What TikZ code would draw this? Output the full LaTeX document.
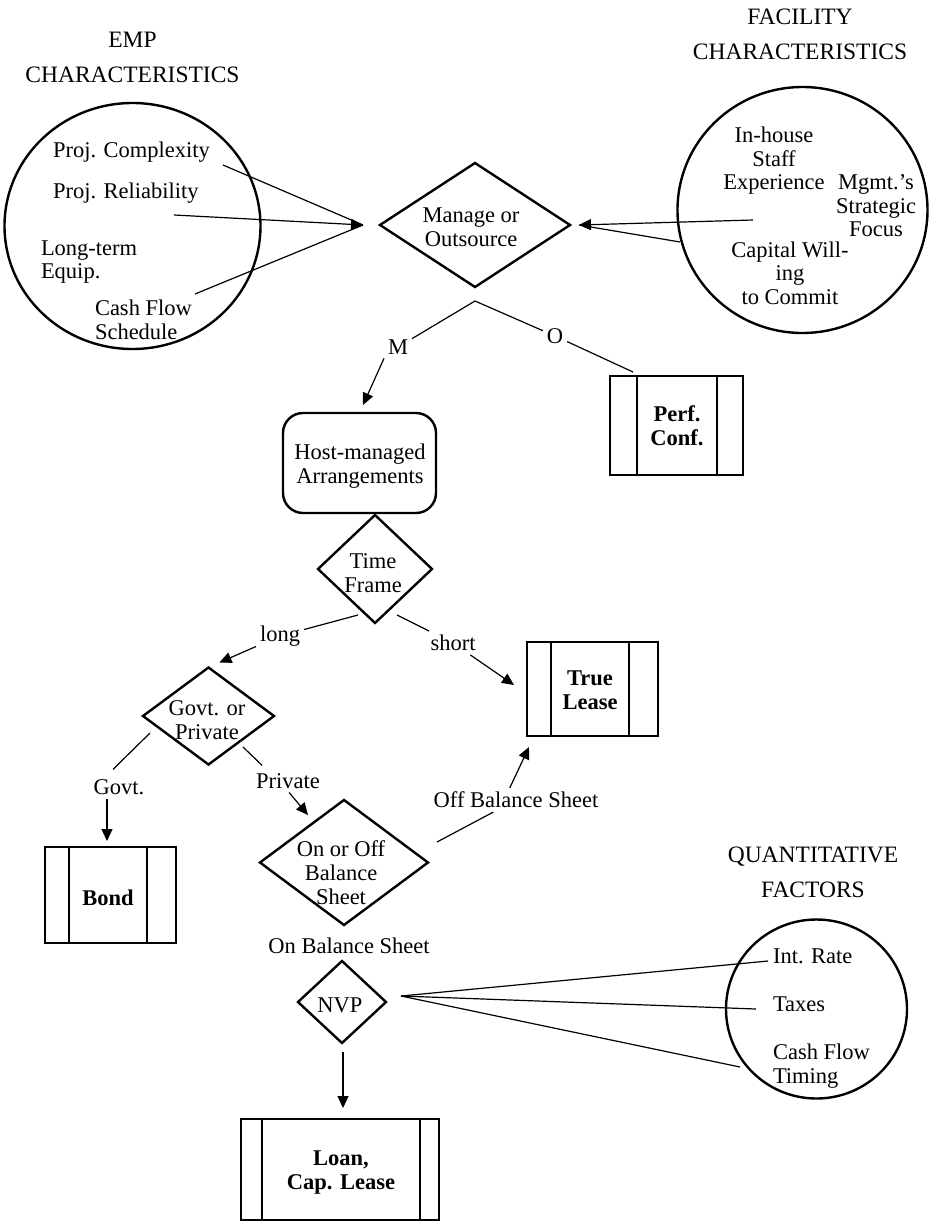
\documentclass[tikz,border=0pt]{standalone}
\usepackage{fontspec}
\setmainfont{Liberation Serif}
\usetikzlibrary{shapes.geometric,arrows.meta,calc}
\begin{document}
\begin{tikzpicture}[x=1pt,y=-1pt,
  every node/.style={inner sep=0pt, outer sep=0pt, font=\fontsize{22.5}{23.5}\selectfont},
  heading/.style={align=center, font=\fontsize{23.5}{35}\selectfont},
  factor/.style={align=center},
  group/.style={draw, ellipse, line width=2.4pt},
  decide/.style={draw, diamond, line width=2.4pt},
  result/.style={draw, rectangle, line width=2.4pt},
  hostbox/.style={draw, rectangle, rounded corners=20pt, line width=2.4pt},
  caption/.style={align=center, font=\fontsize{22.5}{24}\selectfont},
  boldcap/.style={align=center, font=\fontsize{22.5}{24}\selectfont\bfseries},
  branch/.style={inner sep=4pt},
  link/.style={line width=1.2pt},
  head/.style={-{Triangle[length=12pt,width=11pt]}},
  panel/.style={line width=2.4pt},
]
\useasboundingbox (0,0) rectangle (931,1223);

% ---------- factor groups ----------
\node[group, minimum width=256pt, minimum height=246pt] (emp) at (132.5,226) {};
\node[group, minimum width=250pt, minimum height=246pt] (facility) at (802.5,210) {};
\node[group, minimum width=181pt, minimum height=179pt] (quant) at (816.5,1009) {};

\node[heading] (empH) at (132.5,57) {EMP\\CHARACTERISTICS};
\node[heading] (facH) at (800,34) {FACILITY\\CHARACTERISTICS};
\node[heading] (quantH) at (813,872) {QUANTITATIVE\\FACTORS};

% EMP items
\node[anchor=west] (cmplx) at (53,152) {Proj. Complexity};
\node[anchor=west] (relia) at (53,193) {Proj. Reliability};
\node[anchor=west, align=left] (equip) at (41,262) {Long-term\\Equip.};
\node[anchor=west, align=left] (cashS) at (95,320) {Cash Flow\\Schedule};

% facility items
\node[factor] (staff) at (774,161) {In-house\\Staff\\Experience};
\node[factor] (focus) at (876,206) {Mgmt.'s\\Strategic\\Focus};
\node[factor] (capital) at (790,273) {Capital Will-\\ing\\to Commit};

% quantitative items
\node[anchor=west] (rate) at (773,956) {Int. Rate};
\node[anchor=west] (taxes) at (773,1004) {Taxes};
\node[anchor=west, align=left] (timing) at (773,1066) {Cash Flow\\Timing};

% ---------- decisions and outcomes ----------
\node[decide, minimum width=190pt, minimum height=124pt] (manage) at (475,225) {};
\node[caption] (manageT) at (471,227) {Manage or\\Outsource};

\node[result, minimum width=133pt, minimum height=99pt] (perf) at (676.5,425.5) {};
\draw[panel] ($(perf.north west)+(27,0)$) -- ($(perf.south west)+(27,0)$);
\draw[panel] ($(perf.north east)+(-26,0)$) -- ($(perf.south east)+(-26,0)$);
\node[boldcap] (perfT) at (677,426) {Perf.\\Conf.};

\node[hostbox, minimum width=153pt, minimum height=100pt] (host) at (359.5,463) {};
\node[caption] (hostT) at (360,466) {Host-managed\\Arrangements};

\node[decide, minimum width=114pt, minimum height=108pt] (time) at (375,569) {};
\node[caption] (timeT) at (373,573) {Time\\Frame};

\node[decide, minimum width=131pt, minimum height=97pt] (govt) at (208.5,716) {};
\node[caption] (govtT) at (207,720) {Govt. or\\Private};

\node[result, minimum width=131pt, minimum height=94pt] (lease) at (592.5,689) {};
\draw[panel] ($(lease.north west)+(24,0)$) -- ($(lease.south west)+(24,0)$);
\draw[panel] ($(lease.north east)+(-29,0)$) -- ($(lease.south east)+(-29,0)$);
\node[boldcap] (leaseT) at (590,690) {True\\Lease};

\node[result, minimum width=131pt, minimum height=96pt] (bond) at (110.5,895) {};
\draw[panel] ($(bond.north west)+(24,0)$) -- ($(bond.south west)+(24,0)$);
\draw[panel] ($(bond.north east)+(-29,0)$) -- ($(bond.south east)+(-29,0)$);
\node[boldcap] (bondT) at (108,898) {Bond};

\node[decide, minimum width=168pt, minimum height=125pt] (onoff) at (344,862.5) {};
\node[caption] (onoffT) at (341,873) {On or Off\\Balance\\Sheet};

\node (onLbl) at (349,946) {On Balance Sheet};

\node[decide, minimum width=88pt, minimum height=82pt] (nvp) at (342,1002) {};
\node (nvpT) at (340,1005) {NVP};

\node[result, minimum width=198pt, minimum height=101pt] (loan) at (340,1169.5) {};
\draw[panel] ($(loan.north west)+(21,0)$) -- ($(loan.south west)+(21,0)$);
\draw[panel] ($(loan.north east)+(-19,0)$) -- ($(loan.south east)+(-19,0)$);
\node[boldcap] (loanT) at (341,1173) {Loan,\\Cap. Lease};

% ---------- inputs to the first decision ----------
\coordinate (cmplxOut) at (223,165);
\coordinate (reliaOut) at (174,215);
\coordinate (cashOut) at (195,294);
\coordinate (empIn) at ($(manage.west)+(-17,0)$);
\draw[link] (cmplxOut) -- (empIn);
\draw[link,head] (reliaOut) -- (empIn);
\draw[link] (cashOut) -- (empIn);

\coordinate (staffOut) at (753,220);
\coordinate (capOut) at (680,242);
\coordinate (facIn) at ($(manage.east)+(9,0)$);
\draw[link,head] (staffOut) -- (facIn);
\draw[link] (capOut) -- (facIn);

% ---------- branches ----------
\coordinate (split) at (475,301);
\node[branch] (lblM) at (398,347) {M};
\node[branch] (lblO) at (555,336) {O};
\draw[link] (split) -- (lblM);
\draw[link,head] (lblM.south west) -- ($(host.north)+(3.5,-8)$);
\draw[link] (split) -- (lblO);
\draw[link] (lblO) -- ($(perf.north west)+(23,-4)$);

\coordinate (timeL) at (358,615);
\node[branch] (lblLong) at (280,636) {long};
\draw[link] (timeL) -- (lblLong);
\draw[link,head] (lblLong) -- ($(govt.north)+(11,-5)$);

\coordinate (timeR) at (397,615);
\node[branch] (lblShort) at (453,643) {short};
\draw[link] (timeR) -- (lblShort);
\draw[link,head] (lblShort) -- ($(lease.west)+(-13,-4)$);

\coordinate (govtL) at (150,733);
\node[branch] (lblGovt) at (119,787) {Govt.};
\draw[link] (govtL) -- ($(lblGovt.north)+(-6,-6)$);
\draw[link,head] ($(lblGovt.south)+(-12,0)$) -- ($(bond.north)+(-3.5,-6)$);

\coordinate (govtR) at (243,747);
\node[branch] (lblPriv) at (288,781) {Private};
\draw[link] (govtR) -- ($(lblPriv.north west)+(10,-4)$);
\draw[link,head] ($(lblPriv.south west)+(37,0)$) -- ($(onoff.north)+(-36,15)$);

\coordinate (onoffR) at (437,842);
\node[branch] (lblOff) at (516,800) {Off Balance Sheet};
\draw[link] (onoffR) -- (lblOff);
\draw[link,head] ($(lblOff.north west)+(80,0)$) -- ($(lease.south west)+(2,11)$);

\draw[link,head] ($(nvp.south)+(1,9)$) -- ($(nvp.south |- loan.north)+(1,-11)$);

% ---------- quantitative factors into NVP ----------
\coordinate (nvpOut) at ($(nvp.east)+(15,-6)$);
\coordinate (rateIn) at (768,961);
\coordinate (taxIn) at (756,1009);
\coordinate (timIn) at (740,1067);
\draw[link] (nvpOut) -- (rateIn);
\draw[link] (nvpOut) -- (taxIn);
\draw[link] (nvpOut) -- (timIn);
\end{tikzpicture}
\end{document}
